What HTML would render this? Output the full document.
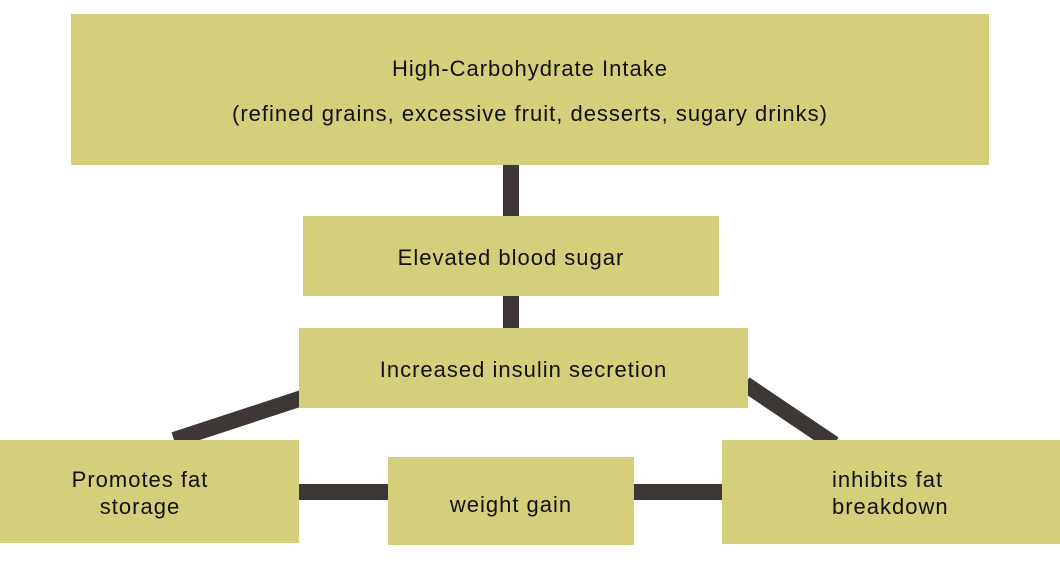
<!DOCTYPE html>
<html><head><style>
body{margin:0;width:1060px;height:565px;background:#fff;position:relative;overflow:hidden;font-family:"Liberation Sans",sans-serif;color:#111;}
.b{position:absolute;background:#d3cf7b;}
.t{position:absolute;font-size:22px;letter-spacing:1px;white-space:nowrap;line-height:27px;}
svg{position:absolute;left:0;top:0;}
</style></head><body>
<svg width="1060" height="565">
<g stroke="#3d3835" stroke-width="16" fill="none">
<line x1="511" y1="160" x2="511" y2="220"/>
<line x1="511" y1="290" x2="511" y2="332"/>
<line x1="302" y1="398" x2="174" y2="440"/>
<line x1="745" y1="384" x2="834" y2="444"/>
<line x1="295" y1="492" x2="392" y2="492"/>
<line x1="630" y1="492" x2="726" y2="492"/>
</g>
</svg>
<div class="b" style="left:71px;top:14px;width:918px;height:151px"></div>
<div class="b" style="left:303px;top:216px;width:416px;height:80px"></div>
<div class="b" style="left:299px;top:328px;width:449px;height:80px"></div>
<div class="b" style="left:0;top:440px;width:299px;height:103px"></div>
<div class="b" style="left:388px;top:457px;width:246px;height:88px"></div>
<div class="b" style="left:722px;top:440px;width:338px;height:104px"></div>
<div class="t" style="left:71px;width:918px;top:55px;text-align:center">High-Carbohydrate Intake</div>
<div class="t" style="left:71px;width:918px;top:100px;text-align:center">(refined grains, excessive fruit, desserts, sugary drinks)</div>
<div class="t" style="left:303px;width:416px;top:244px;text-align:center">Elevated blood sugar</div>
<div class="t" style="left:299px;width:449px;top:356px;text-align:center">Increased insulin secretion</div>
<div class="t" style="left:0;width:280px;top:466px;text-align:center">Promotes fat<br>storage</div>
<div class="t" style="left:388px;width:246px;top:491px;text-align:center">weight gain</div>
<div class="t" style="left:832px;top:466px;">inhibits fat<br>breakdown</div>
</body></html>
